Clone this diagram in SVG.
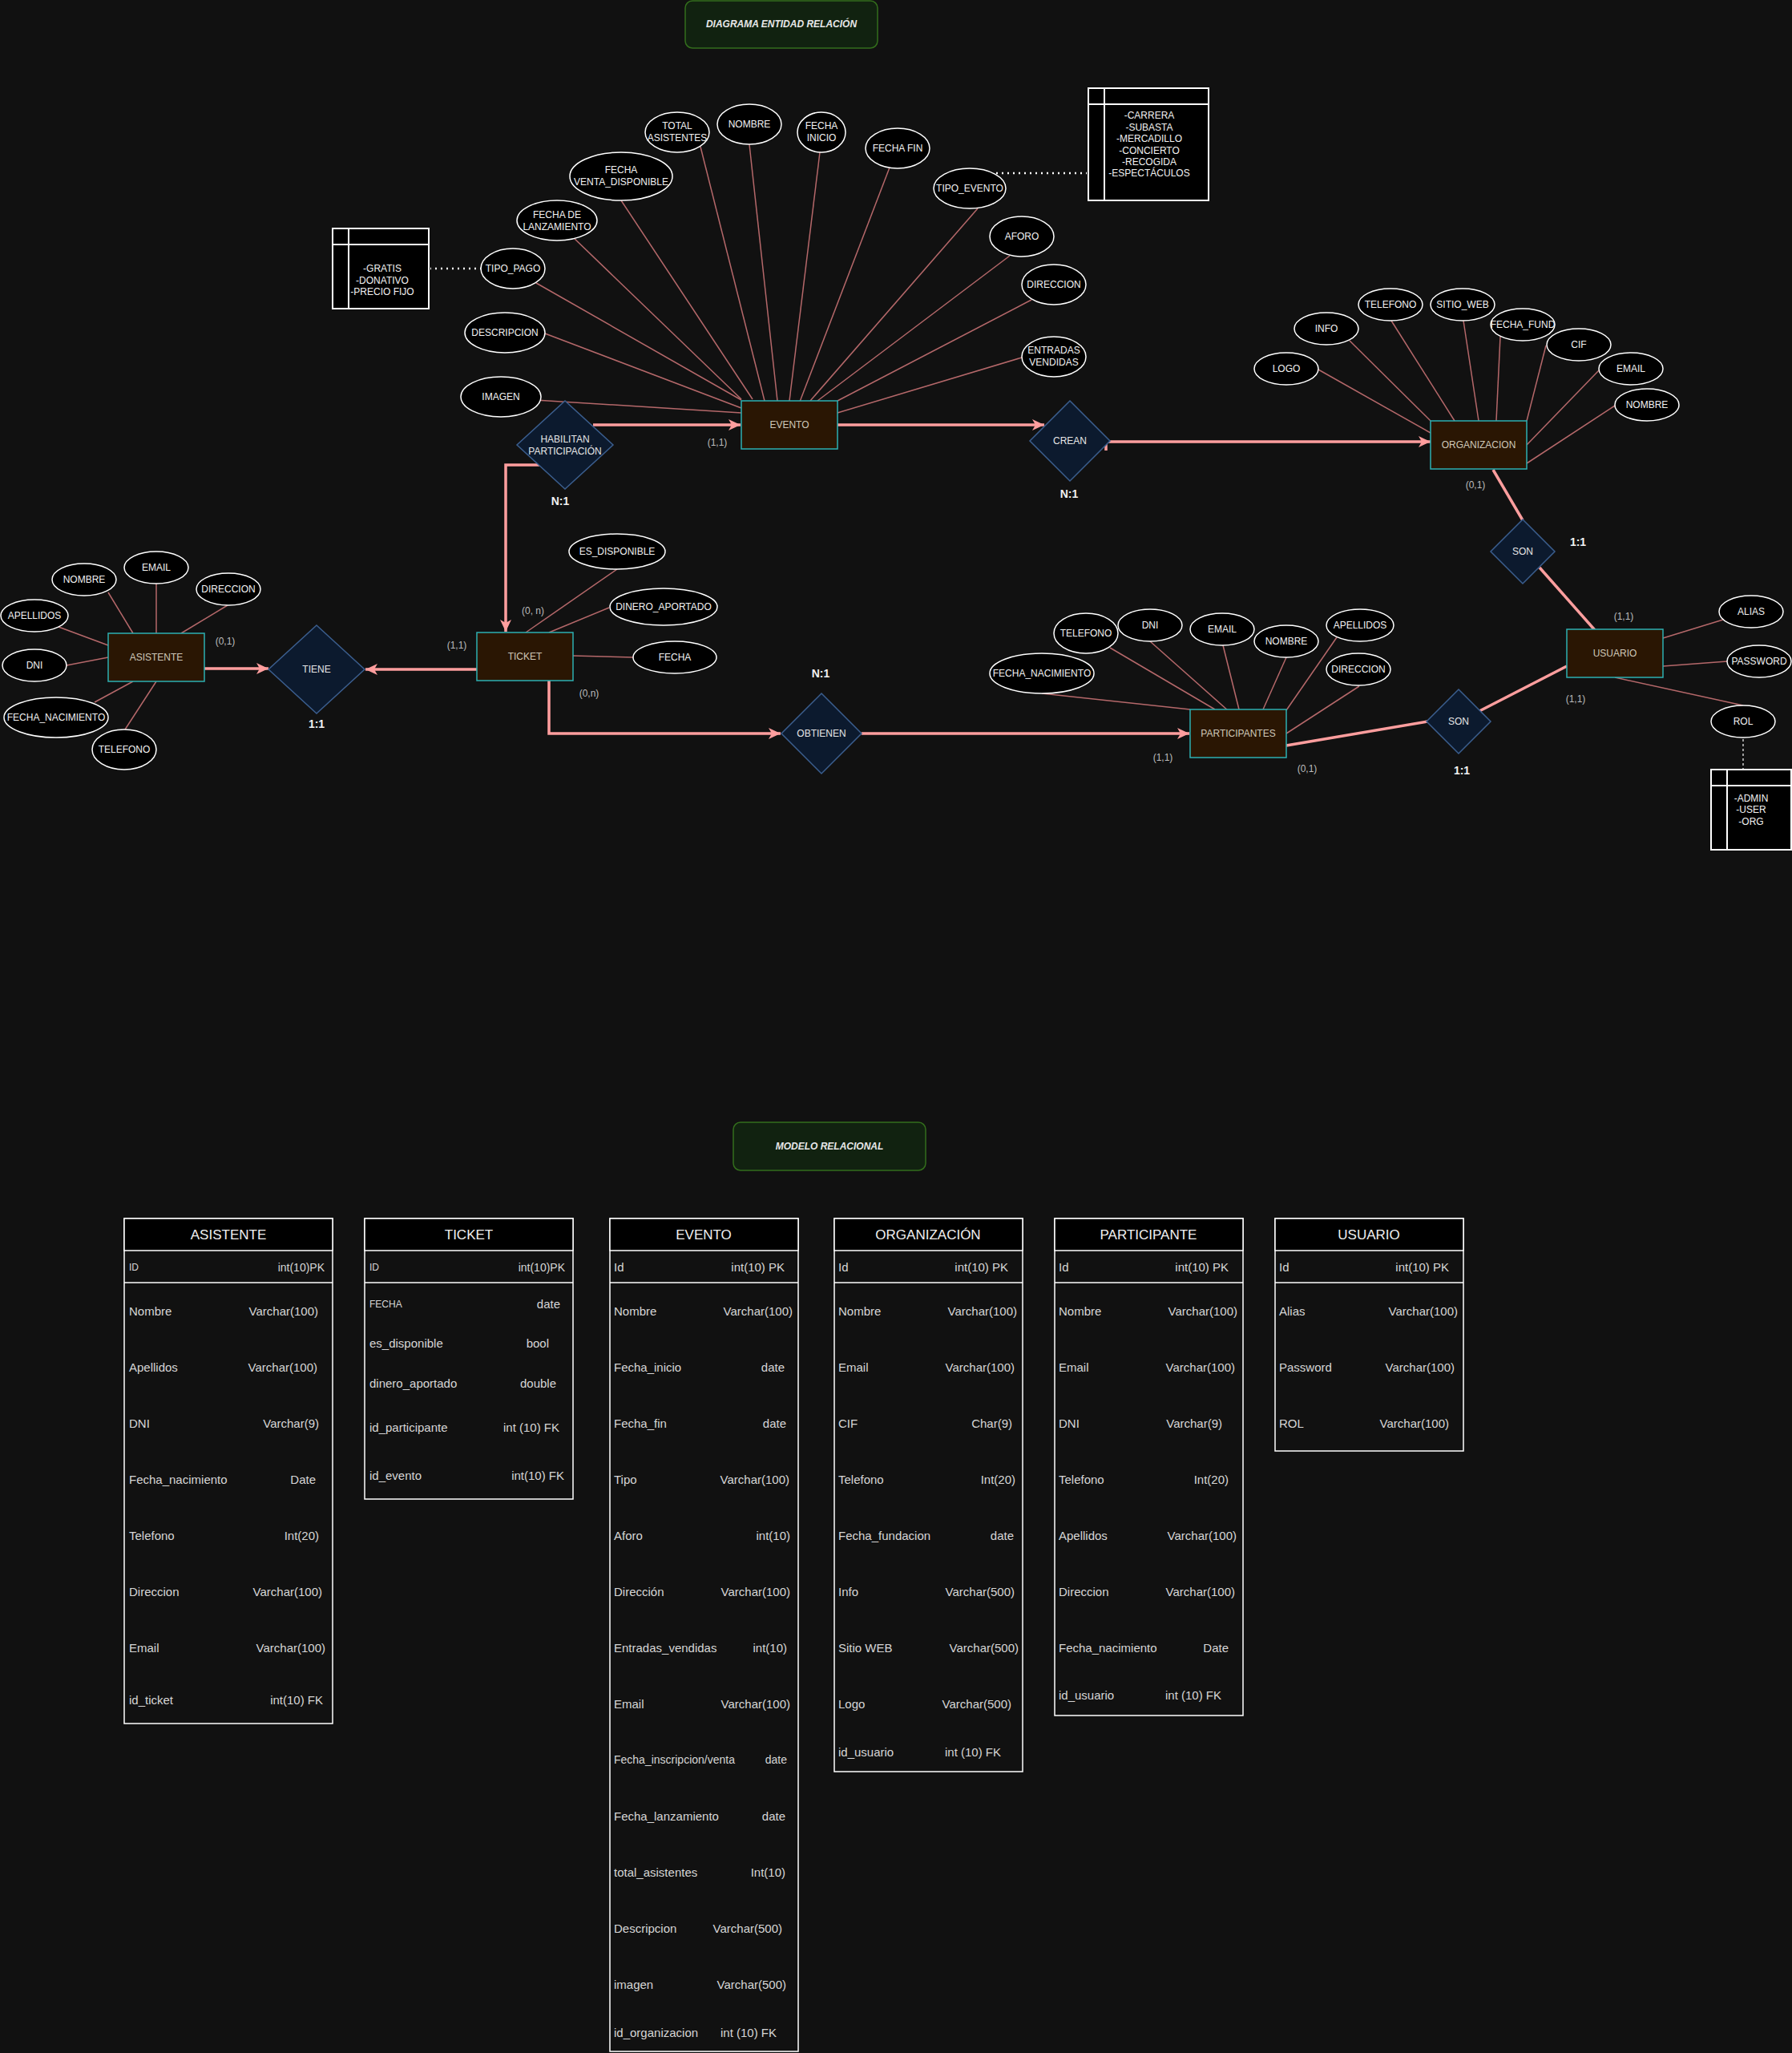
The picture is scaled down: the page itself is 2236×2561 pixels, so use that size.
<svg xmlns="http://www.w3.org/2000/svg" width="2236" height="2561" viewBox="0 0 2236 2561">
<style>
.bg{fill:#111111}
.ent{fill:#2A1603;stroke:#2DB0B3;stroke-width:1.5}
.rel{fill:#0C1A2E;stroke:#3B5E8E;stroke-width:1.5}
.att{fill:#000000;stroke:#FFFFFF;stroke-width:1.5}
.lst{fill:#000000;stroke:#FFFFFF;stroke-width:2}
.al{stroke:#B5686A;stroke-width:1.5;fill:none}
.con{stroke:#FF9E9E;stroke-width:3.5;fill:none}
.dot{stroke:#FFFFFF;stroke-width:2.5;stroke-dasharray:2 5;fill:none}
.dot2{stroke:#CCCCCC;stroke-width:1.5;stroke-dasharray:3 3;fill:none}
.ttl{fill:#112210;stroke:#336E1C;stroke-width:1.5}
.tb{fill:none;stroke:#FFFFFF;stroke-width:1.5}
.th{fill:#000000;stroke:#FFFFFF;stroke-width:1.5}
text{font-family:"Liberation Sans",Arial,Helvetica,sans-serif}
.t12{font-size:12px;fill:#F2F2F2;text-anchor:middle}
.te{font-size:12px;fill:#CFC8B8;text-anchor:middle}
.tr{font-size:12px;fill:#E6E6E6;text-anchor:middle}
.tc{font-size:12px;fill:#BDBDBD;text-anchor:middle}
.tbold{font-size:14px;font-weight:bold;fill:#F2F2F2;text-anchor:middle}
.tt{font-size:12px;font-weight:bold;font-style:italic;fill:#E8E8E8;text-anchor:middle}
.hd{font-size:17px;fill:#F0F0F0;text-anchor:middle}
.rl{font-size:15px;fill:#D6D6D6}
.rr{font-size:15px;fill:#D6D6D6;text-anchor:end}
.s12{font-size:12px}
.s14{font-size:14px}
</style>
<defs>
<marker id="ar" markerUnits="userSpaceOnUse" markerWidth="16" markerHeight="16" viewBox="0 0 16 16" refX="15" refY="8" orient="auto">
<path d="M0,1 L15,8 L0,15 L4,8 z" fill="#FF9E9E"/>
</marker>
</defs>
<rect class="bg" x="0" y="0" width="2236" height="2561"/>

<g id="title-er">
<rect class="ttl" x="855" y="1" width="240" height="59" rx="9"/>
<text class="tt" x="975" y="34">DIAGRAMA ENTIDAD RELACIÓN</text>
</g>

<g id="connectors">
<!-- attribute lines EVENTO -->
<line class="al" x1="874" y1="183" x2="954" y2="500"/>
<line class="al" x1="935" y1="180" x2="970" y2="500"/>
<line class="al" x1="1023" y1="190" x2="985" y2="500"/>
<line class="al" x1="1110" y1="209" x2="998" y2="501"/>
<line class="al" x1="1220" y1="260" x2="1011" y2="500"/>
<line class="al" x1="1260" y1="319" x2="1020" y2="500"/>
<line class="al" x1="1287" y1="374" x2="1045" y2="500"/>
<line class="al" x1="1275" y1="446" x2="1045" y2="515"/>
<line class="al" x1="775" y1="250" x2="939" y2="498"/>
<line class="al" x1="714" y1="295" x2="925" y2="498"/>
<line class="al" x1="669" y1="353" x2="925" y2="499"/>
<line class="al" x1="680" y1="416" x2="925" y2="509"/>
<line class="al" x1="668" y1="499" x2="925" y2="515"/>
<!-- ORGANIZACION -->
<line class="al" x1="1645" y1="461" x2="1785" y2="540"/>
<line class="al" x1="1684" y1="425" x2="1785" y2="525"/>
<line class="al" x1="1736" y1="400" x2="1815" y2="525"/>
<line class="al" x1="1826" y1="400" x2="1845" y2="525"/>
<line class="al" x1="1872" y1="420" x2="1867" y2="525"/>
<line class="al" x1="1929" y1="431" x2="1905" y2="525"/>
<line class="al" x1="1996" y1="461" x2="1905" y2="555"/>
<line class="al" x1="2015" y1="506" x2="1905" y2="578"/>
<!-- USUARIO -->
<line class="al" x1="2150" y1="773" x2="2075" y2="796"/>
<line class="al" x1="2155" y1="825" x2="2075" y2="831"/>
<line class="al" x1="2175" y1="880" x2="2015" y2="845"/>
<!-- PARTICIPANTES -->
<line class="al" x1="1300" y1="865" x2="1485" y2="885"/>
<line class="al" x1="1385" y1="808" x2="1516" y2="885"/>
<line class="al" x1="1435" y1="800" x2="1533" y2="887"/>
<line class="al" x1="1526" y1="805" x2="1546" y2="885"/>
<line class="al" x1="1605" y1="820" x2="1576" y2="885"/>
<line class="al" x1="1668" y1="795" x2="1605" y2="886"/>
<line class="al" x1="1696" y1="856" x2="1605" y2="915"/>
<!-- TICKET -->
<line class="al" x1="770" y1="710" x2="656" y2="789"/>
<line class="al" x1="760" y1="758" x2="685" y2="789"/>
<line class="al" x1="791" y1="820" x2="715" y2="818"/>
<!-- ASISTENTE -->
<line class="al" x1="135" y1="739" x2="166" y2="790"/>
<line class="al" x1="195" y1="728" x2="195" y2="790"/>
<line class="al" x1="284" y1="755" x2="226" y2="790"/>
<line class="al" x1="73" y1="782" x2="135" y2="805"/>
<line class="al" x1="83" y1="830" x2="135" y2="820"/>
<line class="al" x1="118" y1="876" x2="166" y2="850"/>
<line class="al" x1="156" y1="910" x2="195" y2="850"/>
<!-- dotted links to value lists -->
<line class="dot" x1="601" y1="335" x2="537" y2="335"/>
<line class="dot" x1="1243" y1="216" x2="1356" y2="216"/>
<line class="dot2" x1="2175" y1="922" x2="2175" y2="960"/>
<!-- relationship connectors -->
<path class="con" d="M740,530 L924,530" marker-end="url(#ar)"/>
<path class="con" d="M673,580 L631,580 L631,788" marker-end="url(#ar)"/>
<path class="con" d="M1045,530 L1303,530" marker-end="url(#ar)"/>
<path class="con" d="M1380,562 L1380,551 L1785,551" marker-end="url(#ar)"/>
<path class="con" d="M1863,586 L1900,649"/>
<path class="con" d="M1921,708 L1990,786"/>
<path class="con" d="M1955,831 L1846,887"/>
<path class="con" d="M1781,900 L1605,930"/>
<path class="con" d="M1075,915 L1484,915" marker-end="url(#ar)"/>
<path class="con" d="M685,849 L685,915 L974,915" marker-end="url(#ar)"/>
<path class="con" d="M595,835 L456,835" marker-end="url(#ar)"/>
<path class="con" d="M255,834 L335,834" marker-end="url(#ar)"/>
</g>

<!-- value lists -->
<g id="list-tipo-pago">
<rect class="lst" x="415" y="285" width="120" height="100"/>
<line class="lst" x1="415" y1="305" x2="535" y2="305"/>
<line class="lst" x1="435" y1="285" x2="435" y2="385"/>
<text class="t12" x="477" y="339">-GRATIS</text>
<text class="t12" x="477" y="353.5">-DONATIVO</text>
<text class="t12" x="477" y="368">-PRECIO FIJO</text>
</g>
<g id="list-tipo-evento">
<rect class="lst" x="1358" y="110" width="150" height="140"/>
<line class="lst" x1="1358" y1="130" x2="1508" y2="130"/>
<line class="lst" x1="1378" y1="110" x2="1378" y2="250"/>
<text class="t12" x="1434" y="148">-CARRERA</text>
<text class="t12" x="1434" y="162.5">-SUBASTA</text>
<text class="t12" x="1434" y="177">-MERCADILLO</text>
<text class="t12" x="1434" y="191.5">-CONCIERTO</text>
<text class="t12" x="1434" y="206">-RECOGIDA</text>
<text class="t12" x="1434" y="220">-ESPECTÁCULOS</text>
</g>
<g id="list-rol">
<rect class="lst" x="2135" y="960" width="100" height="100"/>
<line class="lst" x1="2135" y1="980" x2="2235" y2="980"/>
<line class="lst" x1="2155" y1="960" x2="2155" y2="1060"/>
<text class="t12" x="2185" y="999.5">-ADMIN</text>
<text class="t12" x="2185" y="1014">-USER</text>
<text class="t12" x="2185" y="1028.5">-ORG</text>
</g>

<!-- EVENTO attributes -->
<g id="att-ev-total"><ellipse class="att" cx="845" cy="165" rx="40" ry="25"/><text class="t12" x="845" y="161">TOTAL</text><text class="t12" x="845" y="176">ASISTENTES</text></g>
<g id="att-ev-nombre"><ellipse class="att" cx="935" cy="155" rx="40" ry="25"/><text class="t12" x="935" y="159">NOMBRE</text></g>
<g id="att-ev-finicio"><ellipse class="att" cx="1025" cy="165" rx="30" ry="25"/><text class="t12" x="1025" y="161">FECHA</text><text class="t12" x="1025" y="176">INICIO</text></g>
<g id="att-ev-ffin"><ellipse class="att" cx="1120" cy="185" rx="40" ry="25"/><text class="t12" x="1120" y="189">FECHA FIN</text></g>
<g id="att-ev-tipo"><ellipse class="att" cx="1210" cy="235" rx="45" ry="25"/><text class="t12" x="1210" y="239">TIPO_EVENTO</text></g>
<g id="att-ev-aforo"><ellipse class="att" cx="1275" cy="295" rx="40" ry="25"/><text class="t12" x="1275" y="299">AFORO</text></g>
<g id="att-ev-dir"><ellipse class="att" cx="1315" cy="355" rx="40" ry="25"/><text class="t12" x="1315" y="359">DIRECCION</text></g>
<g id="att-ev-entradas"><ellipse class="att" cx="1315" cy="445" rx="40" ry="25"/><text class="t12" x="1315" y="441">ENTRADAS</text><text class="t12" x="1315" y="456">VENDIDAS</text></g>
<g id="att-ev-fventa"><ellipse class="att" cx="775" cy="220" rx="64" ry="30"/><text class="t12" x="775" y="216">FECHA</text><text class="t12" x="775" y="231">VENTA_DISPONIBLE</text></g>
<g id="att-ev-flanz"><ellipse class="att" cx="695" cy="275" rx="50" ry="25"/><text class="t12" x="695" y="272">FECHA DE</text><text class="t12" x="695" y="287">LANZAMIENTO</text></g>
<g id="att-ev-tpago"><ellipse class="att" cx="640" cy="335" rx="40" ry="25"/><text class="t12" x="640" y="339">TIPO_PAGO</text></g>
<g id="att-ev-desc"><ellipse class="att" cx="630" cy="415" rx="50" ry="25"/><text class="t12" x="630" y="419">DESCRIPCION</text></g>
<g id="att-ev-img"><ellipse class="att" cx="625" cy="495" rx="50" ry="25"/><text class="t12" x="625" y="499">IMAGEN</text></g>

<!-- ORGANIZACION attributes -->
<g id="att-or-logo"><ellipse class="att" cx="1605" cy="460" rx="40" ry="20"/><text class="t12" x="1605" y="464">LOGO</text></g>
<g id="att-or-info"><ellipse class="att" cx="1655" cy="410" rx="40" ry="20"/><text class="t12" x="1655" y="414">INFO</text></g>
<g id="att-or-tel"><ellipse class="att" cx="1735" cy="380" rx="40" ry="20"/><text class="t12" x="1735" y="384">TELEFONO</text></g>
<g id="att-or-web"><ellipse class="att" cx="1825" cy="380" rx="40" ry="20"/><text class="t12" x="1825" y="384">SITIO_WEB</text></g>
<g id="att-or-fund"><ellipse class="att" cx="1900" cy="405" rx="40" ry="20"/><text class="t12" x="1900" y="409">FECHA_FUND</text></g>
<g id="att-or-cif"><ellipse class="att" cx="1970" cy="430" rx="40" ry="20"/><text class="t12" x="1970" y="434">CIF</text></g>
<g id="att-or-email"><ellipse class="att" cx="2035" cy="460" rx="40" ry="20"/><text class="t12" x="2035" y="464">EMAIL</text></g>
<g id="att-or-nombre"><ellipse class="att" cx="2055" cy="505" rx="40" ry="20"/><text class="t12" x="2055" y="509">NOMBRE</text></g>

<!-- USUARIO attributes -->
<g id="att-us-alias"><ellipse class="att" cx="2185" cy="763" rx="40" ry="20"/><text class="t12" x="2185" y="767">ALIAS</text></g>
<g id="att-us-pass"><ellipse class="att" cx="2195" cy="825" rx="40" ry="20"/><text class="t12" x="2195" y="829">PASSWORD</text></g>
<g id="att-us-rol"><ellipse class="att" cx="2175" cy="900" rx="40" ry="20"/><text class="t12" x="2175" y="904">ROL</text></g>

<!-- PARTICIPANTES attributes -->
<g id="att-pa-fnac"><ellipse class="att" cx="1300" cy="840" rx="65" ry="25"/><text class="t12" x="1300" y="844">FECHA_NACIMIENTO</text></g>
<g id="att-pa-tel"><ellipse class="att" cx="1355" cy="790" rx="40" ry="25"/><text class="t12" x="1355" y="794">TELEFONO</text></g>
<g id="att-pa-dni"><ellipse class="att" cx="1435" cy="780" rx="40" ry="20"/><text class="t12" x="1435" y="784">DNI</text></g>
<g id="att-pa-email"><ellipse class="att" cx="1525" cy="785" rx="40" ry="20"/><text class="t12" x="1525" y="789">EMAIL</text></g>
<g id="att-pa-nombre"><ellipse class="att" cx="1605" cy="800" rx="40" ry="20"/><text class="t12" x="1605" y="804">NOMBRE</text></g>
<g id="att-pa-apell"><ellipse class="att" cx="1697" cy="780" rx="42" ry="20"/><text class="t12" x="1697" y="784">APELLIDOS</text></g>
<g id="att-pa-dir"><ellipse class="att" cx="1695" cy="835" rx="40" ry="20"/><text class="t12" x="1695" y="839">DIRECCION</text></g>

<!-- TICKET attributes -->
<g id="att-ti-disp"><ellipse class="att" cx="770" cy="688" rx="60" ry="22"/><text class="t12" x="770" y="692">ES_DISPONIBLE</text></g>
<g id="att-ti-dinero"><ellipse class="att" cx="828" cy="757" rx="67" ry="23"/><text class="t12" x="828" y="761">DINERO_APORTADO</text></g>
<g id="att-ti-fecha"><ellipse class="att" cx="842" cy="820" rx="52" ry="20"/><text class="t12" x="842" y="824">FECHA</text></g>

<!-- ASISTENTE attributes -->
<g id="att-as-nombre"><ellipse class="att" cx="105" cy="723" rx="40" ry="20"/><text class="t12" x="105" y="727">NOMBRE</text></g>
<g id="att-as-email"><ellipse class="att" cx="195" cy="708" rx="40" ry="20"/><text class="t12" x="195" y="712">EMAIL</text></g>
<g id="att-as-dir"><ellipse class="att" cx="285" cy="735" rx="40" ry="20"/><text class="t12" x="285" y="739">DIRECCION</text></g>
<g id="att-as-apell"><ellipse class="att" cx="43" cy="768" rx="42" ry="20"/><text class="t12" x="43" y="772">APELLIDOS</text></g>
<g id="att-as-dni"><ellipse class="att" cx="43" cy="830" rx="40" ry="20"/><text class="t12" x="43" y="834">DNI</text></g>
<g id="att-as-fnac"><ellipse class="att" cx="70" cy="895" rx="65" ry="25"/><text class="t12" x="70" y="899">FECHA_NACIMIENTO</text></g>
<g id="att-as-tel"><ellipse class="att" cx="155" cy="935" rx="40" ry="25"/><text class="t12" x="155" y="939">TELEFONO</text></g>

<!-- entities -->
<g id="ent-evento"><rect class="ent" x="925" y="500" width="120" height="60"/><text class="te" x="985" y="534">EVENTO</text></g>
<g id="ent-organizacion"><rect class="ent" x="1785" y="525" width="120" height="60"/><text class="te" x="1845" y="559">ORGANIZACION</text></g>
<g id="ent-usuario"><rect class="ent" x="1955" y="785" width="120" height="60"/><text class="te" x="2015" y="819">USUARIO</text></g>
<g id="ent-participantes"><rect class="ent" x="1485" y="885" width="120" height="60"/><text class="te" x="1545" y="919">PARTICIPANTES</text></g>
<g id="ent-ticket"><rect class="ent" x="595" y="789" width="120" height="60"/><text class="te" x="655" y="823">TICKET</text></g>
<g id="ent-asistente"><rect class="ent" x="135" y="790" width="120" height="60"/><text class="te" x="195" y="824">ASISTENTE</text></g>

<!-- relationships -->
<g id="rel-habilitan"><path class="rel" d="M705,500 L765,555 L705,610 L645,555 z"/><text class="tr" x="705" y="551.5">HABILITAN</text><text class="tr" x="705" y="566.5">PARTICIPACIÓN</text></g>
<g id="rel-crean"><path class="rel" d="M1335,500 L1385,550 L1335,600 L1285,550 z"/><text class="tr" x="1335" y="554">CREAN</text></g>
<g id="rel-son1"><path class="rel" d="M1900,648 L1940,688 L1900,728 L1860,688 z"/><text class="tr" x="1900" y="692">SON</text></g>
<g id="rel-son2"><path class="rel" d="M1820,860 L1860,900 L1820,940 L1780,900 z"/><text class="tr" x="1820" y="904">SON</text></g>
<g id="rel-obtienen"><path class="rel" d="M1025,865 L1075,915 L1025,965 L975,915 z"/><text class="tr" x="1025" y="919">OBTIENEN</text></g>
<g id="rel-tiene"><path class="rel" d="M395,780 L455,835 L395,890 L335,835 z"/><text class="tr" x="395" y="839">TIENE</text></g>

<!-- cardinality labels -->
<g id="labels">
<text class="tc" x="895" y="556">(1,1)</text>
<text class="tc" x="665" y="766">(0, n)</text>
<text class="tc" x="570" y="809">(1,1)</text>
<text class="tc" x="281" y="804">(0,1)</text>
<text class="tc" x="735" y="869">(0,n)</text>
<text class="tc" x="1841" y="609">(0,1)</text>
<text class="tc" x="2026" y="773">(1,1)</text>
<text class="tc" x="1966" y="876">(1,1)</text>
<text class="tc" x="1631" y="963">(0,1)</text>
<text class="tc" x="1451" y="949">(1,1)</text>
<text class="tbold" x="699" y="630">N:1</text>
<text class="tbold" x="1334" y="621">N:1</text>
<text class="tbold" x="1024" y="845">N:1</text>
<text class="tbold" x="395" y="908">1:1</text>
<text class="tbold" x="1969" y="681">1:1</text>
<text class="tbold" x="1824" y="966">1:1</text>
</g>

<g id="title-mr">
<rect class="ttl" x="915" y="1400" width="240" height="60" rx="9"/>
<text class="tt" x="1035" y="1434">MODELO RELACIONAL</text>
</g>

<!-- relational tables -->
<g id="tbl-asistente">
<rect class="tb" x="155" y="1520" width="260" height="630"/>
<rect class="th" x="155" y="1520" width="260" height="40"/>
<line class="tb" x1="155" y1="1600" x2="415" y2="1600"/>
<text class="hd" x="285" y="1546">ASISTENTE</text>
<text class="rl s12" x="161" y="1585">ID</text><text class="rr s14" x="405" y="1585.5">int(10)PK</text>
<text class="rl" x="161" y="1641">Nombre</text><text class="rr" x="397" y="1641">Varchar(100)</text>
<text class="rl" x="161" y="1711">Apellidos</text><text class="rr" x="396" y="1711">Varchar(100)</text>
<text class="rl" x="161" y="1781">DNI</text><text class="rr" x="398" y="1781">Varchar(9)</text>
<text class="rl" x="161" y="1851">Fecha_nacimiento</text><text class="rr" x="394" y="1851">Date</text>
<text class="rl" x="161" y="1921">Telefono</text><text class="rr" x="398" y="1921">Int(20)</text>
<text class="rl" x="161" y="1991">Direccion</text><text class="rr" x="402" y="1991">Varchar(100)</text>
<text class="rl" x="161" y="2061">Email</text><text class="rr" x="406" y="2061">Varchar(100)</text>
<text class="rl" x="161" y="2126">id_ticket</text><text class="rr" x="403" y="2126">int(10) FK</text>
</g>

<g id="tbl-ticket">
<rect class="tb" x="455" y="1520" width="260" height="350"/>
<rect class="th" x="455" y="1520" width="260" height="40"/>
<line class="tb" x1="455" y1="1600" x2="715" y2="1600"/>
<text class="hd" x="585" y="1546">TICKET</text>
<text class="rl s12" x="461" y="1585">ID</text><text class="rr s14" x="705" y="1585.5">int(10)PK</text>
<text class="rl s12" x="461" y="1631">FECHA</text><text class="rr" x="699" y="1632">date</text>
<text class="rl" x="461" y="1681">es_disponible</text><text class="rr" x="685" y="1681">bool</text>
<text class="rl" x="461" y="1731">dinero_aportado</text><text class="rr" x="694" y="1731">double</text>
<text class="rl" x="461" y="1786">id_participante</text><text class="rr" x="698" y="1786">int (10) FK</text>
<text class="rl" x="461" y="1846">id_evento</text><text class="rr" x="704" y="1846">int(10) FK</text>
</g>

<g id="tbl-evento">
<rect class="tb" x="761" y="1520" width="235" height="1039"/>
<rect class="th" x="761" y="1520" width="235" height="40"/>
<line class="tb" x1="761" y1="1600" x2="996" y2="1600"/>
<text class="hd" x="878" y="1546">EVENTO</text>
<text class="rl" x="766" y="1586">Id</text><text class="rr" x="979" y="1586">int(10) PK</text>
<text class="rl" x="766" y="1641">Nombre</text><text class="rr" x="989" y="1641">Varchar(100)</text>
<text class="rl" x="766" y="1711">Fecha_inicio</text><text class="rr" x="979" y="1711">date</text>
<text class="rl" x="766" y="1781">Fecha_fin</text><text class="rr" x="981" y="1781">date</text>
<text class="rl" x="766" y="1851">Tipo</text><text class="rr" x="985" y="1851">Varchar(100)</text>
<text class="rl" x="766" y="1921">Aforo</text><text class="rr" x="986" y="1921">int(10)</text>
<text class="rl" x="766" y="1991">Dirección</text><text class="rr" x="986" y="1991">Varchar(100)</text>
<text class="rl" x="766" y="2061">Entradas_vendidas</text><text class="rr" x="982" y="2061">int(10)</text>
<text class="rl" x="766" y="2131">Email</text><text class="rr" x="986" y="2131">Varchar(100)</text>
<text class="rl s14" x="766" y="2200">Fecha_inscripcion/venta</text><text class="rr s14" x="982" y="2200">date</text>
<text class="rl" x="766" y="2271">Fecha_lanzamiento</text><text class="rr" x="980" y="2271">date</text>
<text class="rl" x="766" y="2341">total_asistentes</text><text class="rr" x="980" y="2341">Int(10)</text>
<text class="rl" x="766" y="2411">Descripcion</text><text class="rr" x="976" y="2411">Varchar(500)</text>
<text class="rl" x="766" y="2481">imagen</text><text class="rr" x="981" y="2481">Varchar(500)</text>
<text class="rl" x="766" y="2541">id_organizacion</text><text class="rr" x="969" y="2541">int (10) FK</text>
</g>

<g id="tbl-organizacion">
<rect class="tb" x="1041" y="1520" width="235" height="690"/>
<rect class="th" x="1041" y="1520" width="235" height="40"/>
<line class="tb" x1="1041" y1="1600" x2="1276" y2="1600"/>
<text class="hd" x="1158" y="1546">ORGANIZACIÓN</text>
<text class="rl" x="1046" y="1586">Id</text><text class="rr" x="1258" y="1586">int(10) PK</text>
<text class="rl" x="1046" y="1641">Nombre</text><text class="rr" x="1269" y="1641">Varchar(100)</text>
<text class="rl" x="1046" y="1711">Email</text><text class="rr" x="1266" y="1711">Varchar(100)</text>
<text class="rl" x="1046" y="1781">CIF</text><text class="rr" x="1263" y="1781">Char(9)</text>
<text class="rl" x="1046" y="1851">Telefono</text><text class="rr" x="1267" y="1851">Int(20)</text>
<text class="rl" x="1046" y="1921">Fecha_fundacion</text><text class="rr" x="1265" y="1921">date</text>
<text class="rl" x="1046" y="1991">Info</text><text class="rr" x="1266" y="1991">Varchar(500)</text>
<text class="rl" x="1046" y="2061">Sitio WEB</text><text class="rr" x="1271" y="2061">Varchar(500)</text>
<text class="rl" x="1046" y="2131">Logo</text><text class="rr" x="1262" y="2131">Varchar(500)</text>
<text class="rl" x="1046" y="2191">id_usuario</text><text class="rr" x="1249" y="2191">int (10) FK</text>
</g>

<g id="tbl-participante">
<rect class="tb" x="1316" y="1520" width="235" height="620"/>
<rect class="th" x="1316" y="1520" width="235" height="40"/>
<line class="tb" x1="1316" y1="1600" x2="1551" y2="1600"/>
<text class="hd" x="1433" y="1546">PARTICIPANTE</text>
<text class="rl" x="1321" y="1586">Id</text><text class="rr" x="1533" y="1586">int(10) PK</text>
<text class="rl" x="1321" y="1641">Nombre</text><text class="rr" x="1544" y="1641">Varchar(100)</text>
<text class="rl" x="1321" y="1711">Email</text><text class="rr" x="1541" y="1711">Varchar(100)</text>
<text class="rl" x="1321" y="1781">DNI</text><text class="rr" x="1525" y="1781">Varchar(9)</text>
<text class="rl" x="1321" y="1851">Telefono</text><text class="rr" x="1533" y="1851">Int(20)</text>
<text class="rl" x="1321" y="1921">Apellidos</text><text class="rr" x="1543" y="1921">Varchar(100)</text>
<text class="rl" x="1321" y="1991">Direccion</text><text class="rr" x="1541" y="1991">Varchar(100)</text>
<text class="rl" x="1321" y="2061">Fecha_nacimiento</text><text class="rr" x="1533" y="2061">Date</text>
<text class="rl" x="1321" y="2120">id_usuario</text><text class="rr" x="1524" y="2120">int (10) FK</text>
</g>

<g id="tbl-usuario">
<rect class="tb" x="1591" y="1520" width="235" height="290"/>
<rect class="th" x="1591" y="1520" width="235" height="40"/>
<line class="tb" x1="1591" y1="1600" x2="1826" y2="1600"/>
<text class="hd" x="1708" y="1546">USUARIO</text>
<text class="rl" x="1596" y="1586">Id</text><text class="rr" x="1808" y="1586">int(10) PK</text>
<text class="rl" x="1596" y="1641">Alias</text><text class="rr" x="1819" y="1641">Varchar(100)</text>
<text class="rl" x="1596" y="1711">Password</text><text class="rr" x="1815" y="1711">Varchar(100)</text>
<text class="rl" x="1596" y="1781">ROL</text><text class="rr" x="1808" y="1781">Varchar(100)</text>
</g>
</svg>
